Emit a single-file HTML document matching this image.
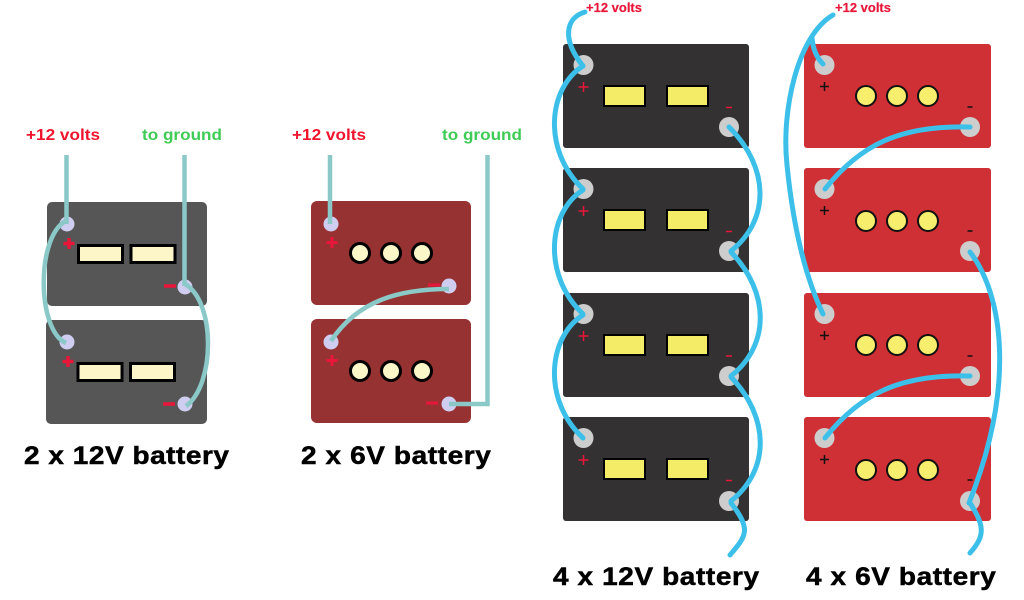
<!DOCTYPE html>
<html><head><meta charset="utf-8"><style>html,body{margin:0;padding:0;background:#fff}svg{display:block}text{font-family:"Liberation Sans",sans-serif;font-weight:bold}</style></head><body>
<svg width="1024" height="600" viewBox="0 0 1024 600" xmlns="http://www.w3.org/2000/svg">
<rect width="1024" height="600" fill="#fff"/>
<!-- Panel 1 -->
<g fill="#565656"><rect x="47" y="202" width="160" height="104" rx="5"/><rect x="46" y="320" width="161" height="104" rx="5"/></g>
<g fill="#fcf6c8" stroke="#000" stroke-width="3"><rect x="78.500" y="245.500" width="44" height="17"/><rect x="131" y="245.500" width="44" height="17"/><rect x="78" y="363.500" width="44" height="17"/><rect x="130.500" y="363.500" width="44" height="17"/></g>
<g fill="#cfcdf0"><circle cx="67" cy="224" r="7.500"/><circle cx="185" cy="287" r="7.500"/><circle cx="67" cy="342" r="7.500"/><circle cx="185" cy="404" r="7.500"/></g>
<g stroke="#e8173a" stroke-width="3.500"><path d="M69 238v11M63.500 243.500h11M68 356v11M62.500 361.500h11M164 286h12M163 404h12"/></g>
<g fill="none" stroke="#8ac9c8" stroke-width="4.500"><path d="M66.500 155V224"/><path d="M184.500 155V286"/><path d="M68 220C36 232 36 330 66 343"/><path d="M185 284C216 302 215 385 186 406"/></g>
<text x="26" y="140" font-size="16" fill="#f0142c" textLength="74" lengthAdjust="spacingAndGlyphs">+12 volts</text>
<text x="142" y="140" font-size="16" fill="#3fcc55" textLength="80" lengthAdjust="spacingAndGlyphs">to ground</text>
<text transform="translate(24 464) scale(1.12 1)" font-size="25" fill="#000" stroke="#000" stroke-width=".5" textLength="183" lengthAdjust="spacing">2 x 12V battery</text>
<!-- Panel 2 -->
<g fill="#973232"><rect x="311" y="201" width="160" height="104" rx="6"/><rect x="311" y="319" width="160" height="104" rx="6"/></g>
<g fill="#fbf7c8" stroke="#000" stroke-width="3"><circle cx="360" cy="253" r="9.500"/><circle cx="391" cy="253" r="9.500"/><circle cx="422" cy="253" r="9.500"/><circle cx="360" cy="371" r="9.500"/><circle cx="391" cy="371" r="9.500"/><circle cx="422" cy="371" r="9.500"/></g>
<g fill="#cfcdf0"><circle cx="331" cy="224" r="7.500"/><circle cx="449" cy="286" r="7.500"/><circle cx="331" cy="342" r="7.500"/><circle cx="449" cy="404" r="7.500"/></g>
<g stroke="#e8173a" stroke-width="3"><path d="M332 237v11M326.500 242.500h11M332 355v11M326.500 360.500h11M428 285h12M426 403h12"/></g>
<g fill="none" stroke="#8ac9c8" stroke-width="4.500"><path d="M330 155V224"/><path d="M487.500 155V404H449"/><path d="M449 289C400 289 358 300 331 341"/></g>
<text x="292" y="140" font-size="16" fill="#f0142c" textLength="74" lengthAdjust="spacingAndGlyphs">+12 volts</text>
<text x="442" y="140" font-size="16" fill="#3fcc55" textLength="80" lengthAdjust="spacingAndGlyphs">to ground</text>
<text transform="translate(301 464) scale(1.12 1)" font-size="25" fill="#000" stroke="#000" stroke-width=".5" textLength="169.500" lengthAdjust="spacing">2 x 6V battery</text>
<!-- Panel 3 -->
<g fill="#333132"><rect x="563" y="44" width="186" height="104" rx="3"/><rect x="563" y="168" width="186" height="104" rx="3"/><rect x="563" y="293" width="186" height="104" rx="3"/><rect x="563" y="417" width="186" height="104" rx="3"/></g>
<g fill="#f4ec66" stroke="#000" stroke-width="2"><rect x="604" y="86" width="41" height="20"/><rect x="667" y="86" width="41" height="20"/><rect x="604" y="210" width="41" height="20"/><rect x="667" y="210" width="41" height="20"/><rect x="604" y="335" width="41" height="20"/><rect x="667" y="335" width="41" height="20"/><rect x="604" y="459" width="41" height="20"/><rect x="667" y="459" width="41" height="20"/></g>
<g fill="#cdcdcd"><circle cx="583.500" cy="65" r="10"/><circle cx="729" cy="127" r="10"/><circle cx="583.500" cy="189" r="10"/><circle cx="729" cy="251" r="10"/><circle cx="583.500" cy="314" r="10"/><circle cx="729" cy="376" r="10"/><circle cx="583.500" cy="438" r="10"/><circle cx="729" cy="501" r="10"/></g>
<g stroke="#e8173a" stroke-width="1.500"><path d="M583.500 82v10M578.500 87h10M583.500 206v10M578.500 211h10M583.500 331v10M578.500 336h10M583.500 455v10M578.500 460h10M726 107.500h6M726 231.500h6M726 356h6M726 480.500h6"/></g>
<g fill="none" stroke="#3cc0ea" stroke-width="5" stroke-linecap="round" stroke-linejoin="round"><path d="M585 12C565 18 562 40 583 66"/><path d="M583 66C548 88 542 150 583 189"/><path d="M583 190C548 212 542 275 583 314"/><path d="M583 315C548 337 542 400 583 438"/><path d="M729 127C770 168 770 220 731 251"/><path d="M731 252C770 293 770 345 731 376"/><path d="M731 377C770 418 770 470 731 501"/><path d="M731 503C752 530 746 536 730 555"/></g>
<text x="586" y="12" font-size="13" fill="#e8173a" stroke="#e8173a" stroke-width=".2" textLength="56" lengthAdjust="spacingAndGlyphs">+12 volts</text>
<text transform="translate(553 585) scale(1.12 1)" font-size="25" fill="#000" stroke="#000" stroke-width=".5" textLength="184" lengthAdjust="spacing">4 x 12V battery</text>
<!-- Panel 4 -->
<g fill="#cf3035"><rect x="804" y="44" width="187" height="104" rx="3"/><rect x="804" y="168" width="187" height="104" rx="3"/><rect x="804" y="293" width="187" height="104" rx="3"/><rect x="804" y="417" width="187" height="104" rx="3"/></g>
<g fill="#f6ee6c" stroke="#111" stroke-width="2"><circle cx="866" cy="96" r="10"/><circle cx="897" cy="96" r="10"/><circle cx="928" cy="96" r="10"/><circle cx="866" cy="221" r="10"/><circle cx="897" cy="221" r="10"/><circle cx="928" cy="221" r="10"/><circle cx="866" cy="345" r="10"/><circle cx="897" cy="345" r="10"/><circle cx="928" cy="345" r="10"/><circle cx="866" cy="470" r="10"/><circle cx="897" cy="470" r="10"/><circle cx="928" cy="470" r="10"/></g>
<g fill="#cdcdcd"><circle cx="824.500" cy="65" r="10"/><circle cx="970" cy="127" r="10"/><circle cx="824.500" cy="189" r="10"/><circle cx="970" cy="251" r="10"/><circle cx="824.500" cy="314" r="10"/><circle cx="970" cy="376" r="10"/><circle cx="824.500" cy="438" r="10"/><circle cx="970" cy="501" r="10"/></g>
<g stroke="#111" stroke-width="1.500"><path d="M824.500 82v9M820 86.500h9M824.500 206v9M820 210.500h9M824.500 331v9M820 335.500h9M824.500 455v9M820 459.500h9M967.500 107h5M967.500 231h5M967.500 356h5M967.500 480h5"/></g>
<g fill="none" stroke="#3cc0ea" stroke-width="5" stroke-linecap="round"><path d="M812 38C813 50 817 58 823 64"/><path d="M833 15C798 35 781 110 787 165C792 215 802 270 823 314"/><path d="M970 127C900 125 860 145 825 189"/><path d="M970 376C900 374 860 394 825 438"/><path d="M970 252C1003 295 1016 385 969 503"/><path d="M970 503C984 525 986 535 970 553"/></g>
<text x="835" y="12" font-size="13" fill="#e8173a" stroke="#e8173a" stroke-width=".2" textLength="56" lengthAdjust="spacingAndGlyphs">+12 volts</text>
<text transform="translate(806 585) scale(1.12 1)" font-size="25" fill="#000" stroke="#000" stroke-width=".5" textLength="169.500" lengthAdjust="spacing">4 x 6V battery</text>
</svg>
</body></html>
